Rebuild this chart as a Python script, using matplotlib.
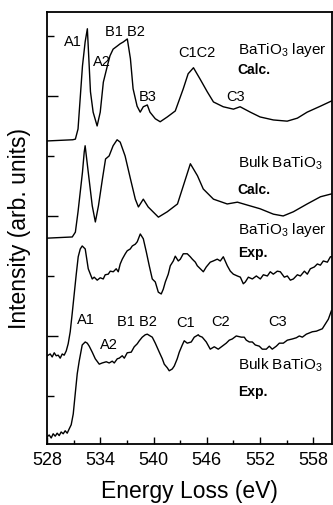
import matplotlib
matplotlib.use("Agg")
import matplotlib.pyplot as plt
from matplotlib.ticker import MultipleLocator

plt.rcParams['font.family'] = ['Liberation Sans', 'DejaVu Sans']
plt.rcParams['mathtext.fontset'] = 'custom'
plt.rcParams['mathtext.rm'] = 'Liberation Sans'
plt.rcParams['mathtext.bf'] = 'Liberation Sans:bold'

# BaTiO3 layer, calculated
e_layer_calc = [528.0, 530.9, 531.2, 531.5, 532.0, 532.3, 532.55, 532.9, 533.2, 533.65,
                534.0, 534.35, 534.8, 535.1, 535.45, 535.9, 536.25, 536.6, 537.05, 537.4,
                537.7, 538.15, 538.5, 538.85, 539.3, 539.6, 540.2, 540.75, 541.55, 542.45,
                543.35, 543.9, 544.5, 545.25, 546.05, 546.75, 547.85, 549.0, 549.75, 550.9,
                552.0, 553.5, 555.05, 556.2, 557.3, 558.8, 560.1]
i_layer_calc = [5.25, 5.27, 5.28, 5.45, 6.5, 6.9, 7.12, 6.07, 5.73, 5.5,
                5.73, 6.23, 6.5, 6.67, 6.78, 6.83, 6.87, 6.9, 6.95, 6.62,
                6.12, 5.83, 5.73, 5.82, 5.85, 5.73, 5.62, 5.57, 5.65, 5.75,
                6.12, 6.37, 6.47, 6.28, 6.07, 5.9, 5.82, 5.78, 5.82, 5.73,
                5.65, 5.6, 5.58, 5.63, 5.73, 5.83, 5.92]

# bulk BaTiO3, calculated
e_bulk_calc = [528.0, 530.85, 531.2, 531.5, 532.0, 532.2, 532.3, 532.65, 533.1, 533.45,
               533.8, 534.25, 534.6, 535.0, 535.45, 535.9, 536.25, 536.8, 537.4, 537.95,
               538.3, 538.85, 539.4, 540.55, 541.55, 542.7, 543.35, 544.15, 544.95, 545.6,
               546.75, 548.3, 549.45, 550.6, 552.0, 553.5, 554.6, 555.75, 557.3, 558.8, 560.1]
i_bulk_calc = [3.63, 3.65, 3.73, 4.07, 4.73, 5.07, 5.17, 4.73, 4.17, 3.9,
               4.17, 4.62, 4.95, 5.0, 5.17, 5.27, 5.23, 5.0, 4.62, 4.28,
               4.15, 4.28, 4.15, 3.98, 4.07, 4.2, 4.5, 4.87, 4.67, 4.45,
               4.28, 4.2, 4.23, 4.18, 4.12, 4.03, 4.0, 4.07, 4.2, 4.32, 4.37]

# BaTiO3 layer, experiment
e_layer_exp = [528.03, 528.37, 528.59, 528.82, 529.04, 529.27, 529.49, 529.72, 529.94, 530.17,
               530.39, 530.62, 530.84, 531.07, 531.3, 531.52, 531.75, 531.97, 532.31, 532.65,
               533.1, 533.32, 533.66, 534.0, 534.34, 534.56, 534.9, 535.13, 535.47, 535.8,
               536.03, 536.25, 536.48, 536.82, 537.04, 537.38, 537.61, 537.95, 538.17, 538.51,
               538.85, 539.19, 539.52, 539.86, 540.2, 540.54, 540.87, 541.1, 541.33, 541.66,
               541.89, 542.23, 542.45, 542.79, 543.02, 543.35, 543.8, 544.14, 544.37, 544.71,
               544.93, 545.27, 545.61, 545.94, 546.39, 546.73, 547.18, 547.52, 547.86, 548.31,
               548.65, 548.99, 549.44, 549.78, 550.11, 550.34, 550.68, 551.13, 551.58, 552.03,
               552.37, 552.82, 553.15, 553.49, 553.94, 554.28, 554.73, 555.07, 555.41, 555.75,
               556.2, 556.54, 556.99, 557.32, 557.66, 558.11, 558.45, 558.79, 559.12, 559.58,
               559.92, 560.14]
i_layer_exp = [1.67, 1.7, 1.65, 1.72, 1.67, 1.68, 1.63, 1.7, 1.68, 1.75,
               1.87, 2.07, 2.37, 2.7, 3.03, 3.32, 3.45, 3.5, 3.45, 3.12,
               2.95, 2.98, 2.93, 2.97, 2.95, 3.02, 3.03, 3.08, 3.07, 3.12,
               3.07, 3.2, 3.28, 3.37, 3.42, 3.45, 3.5, 3.53, 3.57, 3.7,
               3.62, 3.4, 3.17, 2.95, 2.9, 2.73, 2.7, 2.78, 2.9, 3.03,
               3.17, 3.25, 3.33, 3.25, 3.28, 3.37, 3.37, 3.32, 3.28, 3.23,
               3.17, 3.12, 3.07, 3.15, 3.23, 3.25, 3.28, 3.25, 3.32, 3.17,
               3.08, 3.03, 3.0, 2.98, 2.87, 2.9, 2.98, 2.95, 3.0, 2.95,
               3.02, 3.0, 3.07, 3.03, 3.08, 3.07, 2.98, 3.0, 2.93, 2.95,
               3.02, 3.0, 3.08, 3.03, 3.12, 3.15, 3.2, 3.18, 3.25, 3.23,
               3.32, 3.32]

# bulk BaTiO3, experiment
e_bulk_exp = [528.03, 528.25, 528.48, 528.7, 528.93, 529.15, 529.38, 529.6, 529.83, 530.05,
              530.28, 530.5, 530.73, 530.96, 531.18, 531.41, 531.63, 531.97, 532.31, 532.54,
              532.76, 533.1, 533.44, 533.89, 534.22, 534.68, 535.01, 535.35, 535.58, 535.92,
              536.14, 536.48, 536.71, 537.04, 537.49, 537.83, 538.17, 538.4, 538.73, 539.07,
              539.3, 539.63, 539.86, 540.2, 540.65, 540.99, 541.21, 541.55, 541.77, 542.11,
              542.34, 542.67, 542.9, 543.24, 543.46, 543.8, 544.25, 544.59, 544.82, 545.04,
              545.16, 545.49, 545.94, 546.39, 546.84, 547.29, 547.74, 548.19, 548.53, 548.87,
              549.32, 549.89, 550.22, 550.45, 550.79, 551.13, 551.46, 551.91, 552.25, 552.7,
              553.04, 553.37, 553.83, 554.17, 554.62, 555.07, 555.63, 556.08, 556.42, 556.76,
              557.21, 557.55, 557.88, 558.34, 558.67, 559.01, 559.35, 559.69, 560.03]
i_bulk_exp = [0.32, 0.35, 0.3, 0.37, 0.33, 0.38, 0.34, 0.4, 0.37, 0.42,
              0.38, 0.45, 0.52, 0.7, 1.03, 1.37, 1.58, 1.85, 1.9, 1.88,
              1.83, 1.73, 1.62, 1.53, 1.55, 1.57, 1.55, 1.58, 1.55, 1.62,
              1.63, 1.67, 1.63, 1.72, 1.73, 1.82, 1.87, 1.92, 1.98, 2.02,
              2.03, 2.0, 1.98, 1.88, 1.73, 1.62, 1.53, 1.47, 1.42, 1.45,
              1.5, 1.62, 1.73, 1.85, 1.92, 1.88, 1.9, 1.98, 2.0, 2.02,
              2.0, 1.98, 1.9, 1.78, 1.82, 1.78, 1.83, 1.88, 1.93, 1.95,
              2.0, 1.98, 1.98, 1.93, 1.9, 1.9, 1.85, 1.83, 1.78, 1.78,
              1.83, 1.78, 1.83, 1.88, 1.88, 1.93, 1.95, 1.97, 2.0, 1.98,
              2.03, 2.05, 2.07, 2.08, 2.1, 2.12, 2.2, 2.28, 2.42]

peak_labels = [("A1", 530.96, 6.92), ("A2", 534.23, 6.58), ("B1 B2", 536.82, 7.08),
               ("B3", 539.3, 6.0), ("C1C2", 544.93, 6.73), ("C3", 549.21, 6.0),
               ("A1", 532.42, 2.28), ("B1 B2", 538.17, 2.25), ("C1", 543.58, 2.23),
               ("C2", 547.52, 2.25), ("C3", 553.94, 2.25), ("A2", 535.01, 1.87)]
curve_labels = [("BaTiO$_3$ layer", "Calc.", 6.78, 6.45),
                ("Bulk BaTiO$_3$", "Calc.", 4.9, 4.45),
                ("BaTiO$_3$ layer", "Exp.", 3.78, 3.4),
                ("Bulk BaTiO$_3$", "Exp.", 1.53, 1.08)]

fig = plt.figure(figsize=(3.33, 5.06), dpi=100)
ax = fig.add_axes([0.141, 0.1206, 0.856, 0.8544])

for e, i in [(e_layer_calc, i_layer_calc), (e_bulk_calc, i_bulk_calc),
             (e_layer_exp, i_layer_exp), (e_bulk_exp, i_bulk_exp)]:
    ax.plot(e, i, color='black', linewidth=1.0)

for txt, x, y in peak_labels:
    ax.text(x, y, txt, fontsize=10.5, ha='center', va='center')

for name, kind, y1, y2 in curve_labels:
    ax.text(549.5, y1, name, fontsize=11, ha='left', va='center')
    ax.text(549.5, y2, kind, fontsize=10, fontweight='bold', ha='left', va='center')

ax.set_xlim(528, 560.1)
ax.set_ylim(0.2, 7.405)
ax.set_xticks([528, 534, 540, 546, 552, 558])
ax.xaxis.set_minor_locator(MultipleLocator(3))
ax.set_yticks([2, 4, 6])
ax.set_yticklabels([])
ax.set_yticks([1, 3, 5, 7], minor=True)
ax.tick_params(axis='x', which='major', direction='in', length=5, width=1, labelsize=13, pad=5)
ax.tick_params(axis='x', which='minor', direction='in', length=3, width=1)
ax.tick_params(axis='y', which='major', direction='in', length=8, width=1)
ax.tick_params(axis='y', which='minor', direction='in', length=5, width=1)
for s in ax.spines.values():
    s.set_linewidth(1.3)

ax.set_xlabel("Energy Loss (eV)", fontsize=16.5, labelpad=8)
ax.set_ylabel("Intensity (arb. units)", fontsize=16.5, labelpad=8)

fig.savefig("out.png", dpi=100)
